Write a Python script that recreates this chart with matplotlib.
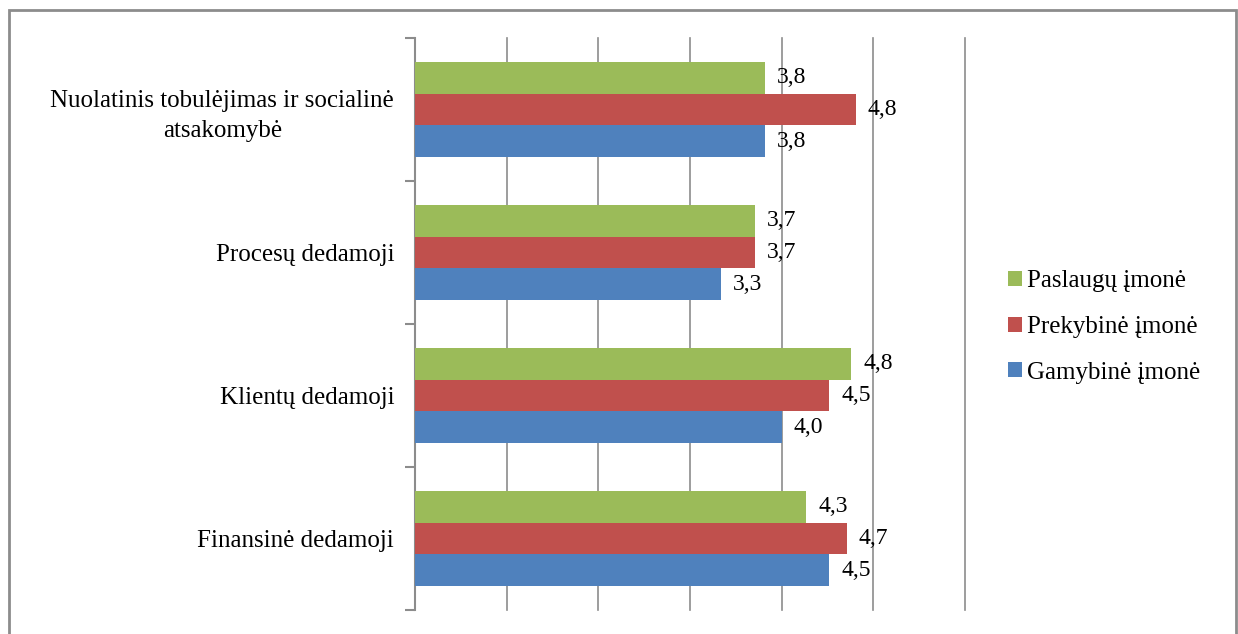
import numpy as np
import matplotlib.pyplot as plt
from matplotlib.patches import Rectangle

categories = ["Finansinė dedamoji", "Klientų dedamoji", "Procesų dedamoji",
              "Nuolatinis tobulėjimas ir socialinė\natsakomybė"]
series = ["Gamybinė įmonė", "Prekybinė įmonė", "Paslaugų įmonė"]
gamybine = [4.52, 4.0, 3.34, 3.82]
prekybine = [4.71, 4.52, 3.71, 4.81]
paslaugu = [4.27, 4.76, 3.71, 3.82]
colors = ["#4F81BD", "#C0504D", "#9BBB59"]

plt.rcParams['font.family'] = ['Liberation Serif', 'DejaVu Serif']

fig = plt.figure(figsize=(12.38, 6.34), dpi=100)
W, H = 1238, 634
ax = fig.add_axes([415 / W, 1 - 610 / H, (965 - 415) / W, (610 - 38) / H])

# outer frame
fig.patches.append(Rectangle((9 / W, -0.1), (1236 - 9) / W, 1.1 - 10 / H,
                             transform=fig.transFigure, fill=False,
                             edgecolor="#8c8c8c", linewidth=2))

y = np.arange(len(categories))
h = 0.222
vals = [gamybine, prekybine, paslaugu]
for i, (v, c, name) in enumerate(zip(vals, colors, series)):
    pos = y + (i - 1) * h
    ax.barh(pos, v, height=h, color=c, label=name, zorder=3)
    for p, val in zip(pos, v):
        ax.text(val + 0.13, p, f"{val:.1f}".replace(".", ","), va="center",
                ha="left", fontsize=17, zorder=4)

ax.set_xlim(0, 6)
ax.set_ylim(-0.5, len(categories) - 0.5)
ax.set_xticks([])
for gx in range(1, 7):
    ax.axvline(gx, color="#8c8c8c", linewidth=1.2, zorder=0, clip_on=False)

ax.set_yticks(y)
ax.set_yticklabels(categories, fontsize=18)
for t in ax.get_yticklabels():
    t.set_multialignment("center")
    t.set_linespacing(1.45)
ax.tick_params(axis="y", which="major", length=0, pad=15)
ax.set_yticks(np.arange(-0.5, len(categories)), minor=True)
ax.tick_params(axis="y", which="minor", length=7, color="#8c8c8c", width=1.5)

for s in ["top", "right", "bottom"]:
    ax.spines[s].set_visible(False)
ax.spines["left"].set_color("#8c8c8c")
ax.spines["left"].set_linewidth(1.5)

handles, labels = ax.get_legend_handles_labels()
fig.legend(handles[::-1], labels[::-1], loc="center left",
           bbox_to_anchor=(998 / W, 1 - 327 / H), frameon=False,
           fontsize=18, handlelength=0.55, handleheight=0.55,
           handletextpad=0.2, labelspacing=0.95, borderaxespad=0)

fig.savefig("out.png", dpi=100)
